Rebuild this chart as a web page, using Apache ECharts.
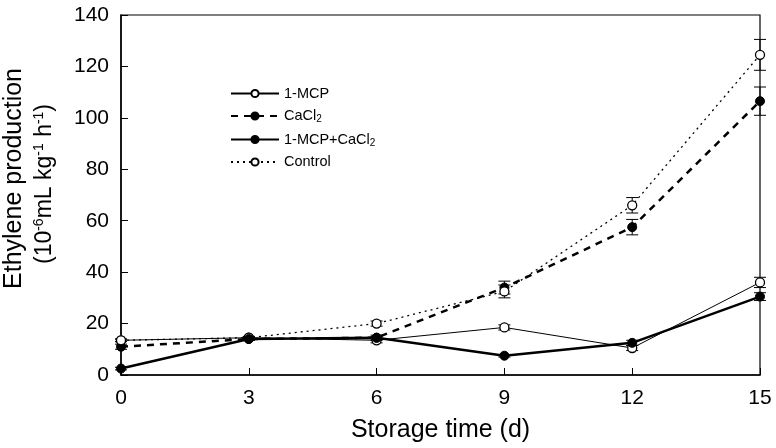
<!DOCTYPE html>
<html><head><meta charset="utf-8">
<script src="https://cdn.jsdelivr.net/npm/echarts@6/dist/echarts.min.js"></script>
<style>html,body{margin:0;padding:0;background:#fff}#c{width:776px;height:448px}</style>
</head><body><div id="c"></div>
<script>
var days = [0, 3, 6, 9, 12, 15];
var xTicks = [0, 3, 6, 9, 12, 15];
var yTicks = [0, 20, 40, 60, 80, 100, 120, 140];
var mcp = [13.5, 14.5, 13.5, 18.5, 10.5, 36];
var mcpErr = [0.5, 0.5, 1, 1, 1, 2];
var cacl = [11, 14, 14.5, 34, 57.5, 106.5];
var caclErr = [1, 0.5, 1, 2.5, 3, 5.5];
var combo = [2.5, 14, 14.5, 7.5, 12.5, 30.5];
var comboErr = [0.5, 0.5, 0.5, 0.5, 1, 1.5];
var control = [13.5, 14.5, 20, 32.5, 66, 124.5];
var controlErr = [0.5, 0.5, 1, 2.5, 3, 6];
var names = ['1-MCP', 'CaCl2', '1-MCP+CaCl2', 'Control'];
var FONT = 'Liberation Sans, Arial, sans-serif';

function pairs(v) { return days.map(function (d, i) { return [d, v[i]]; }); }
function errData(v, e) { return days.map(function (d, i) { return [d, v[i] - e[i], v[i] + e[i]]; }); }
function errSeries(v, e) {
  return {
    type: 'custom', silent: true, z: 1,
    data: errData(v, e),
    renderItem: function (params, api) {
      var x = api.value(0);
      var lo = api.coord([x, api.value(1)]);
      var hi = api.coord([x, api.value(2)]);
      var w = 6;
      var st = { stroke: '#000', lineWidth: 1 };
      return { type: 'group', children: [
        { type: 'line', shape: { x1: lo[0], y1: lo[1], x2: hi[0], y2: hi[1] }, style: st },
        { type: 'line', shape: { x1: lo[0] - w, y1: lo[1], x2: lo[0] + w, y2: lo[1] }, style: st },
        { type: 'line', shape: { x1: hi[0] - w, y1: hi[1], x2: hi[0] + w, y2: hi[1] }, style: st }
      ]};
    }
  };
}
var openItem = { color: '#fff', borderColor: '#000', borderWidth: 1.3 };
var fillItem = { color: '#000', borderColor: '#000', borderWidth: 1 };

var chart = echarts.init(document.getElementById('c'));
chart.setOption({
  animation: false,
  backgroundColor: '#fff',
  textStyle: { fontFamily: FONT, color: '#000' },
  grid: { left: 121, right: 16, top: 15, bottom: 71, show: true, borderColor: '#000', borderWidth: 1.2 },
  legend: {
    orient: 'vertical', left: 225, top: 81, itemWidth: 48, itemHeight: 9, itemGap: 6.5,
    data: names,
    textStyle: { fontSize: 14.5, color: '#000', fontFamily: FONT, lineHeight: 14,
      rich: { n: { fontSize: 14.5, lineHeight: 14 }, s: { fontSize: 10, lineHeight: 14, padding: [7, 0, 0, 0] } } },
    formatter: function (n) {
      if (n === 'CaCl2') return '{n|CaCl}{s|2}';
      if (n === '1-MCP+CaCl2') return '{n|1-MCP+CaCl}{s|2}';
      return '{n|' + n + '}';
    }
  },
  graphic: [
    { type: 'text', x: 14.5, y: 178.5, rotation: Math.PI / 2, silent: true,
      style: { text: 'Ethylene production', font: '25px ' + FONT, fill: '#000', align: 'center', verticalAlign: 'middle' } },
    { type: 'text', x: 45, y: 184, rotation: Math.PI / 2, silent: true,
      style: { text: '{m|(10}{s|-6}{m|mL kg}{s|-1}{m| h}{s|-1}{m|)}', fill: '#000', align: 'center', verticalAlign: 'middle',
        rich: { m: { fontSize: 23, fontFamily: FONT, lineHeight: 26 }, s: { fontSize: 14, fontFamily: FONT, lineHeight: 26, padding: [0, 0, 12, 0] } } } }
  ],
  xAxis: {
    type: 'value', min: 0, max: 15, interval: 3,
    name: 'Storage time (d)', nameLocation: 'middle', nameGap: 43,
    nameTextStyle: { fontSize: 25, color: '#000' },
    axisLine: { lineStyle: { color: '#000', width: 1.5 } },
    axisTick: { inside: true, length: 7, lineStyle: { color: '#000' } },
    axisLabel: { fontSize: 21, color: '#000', margin: 13,
      formatter: function (v) { return xTicks.indexOf(v) >= 0 ? String(v) : ''; } },
    splitLine: { show: false }
  },
  yAxis: {
    type: 'value', min: 0, max: 140, interval: 20,
    axisLine: { lineStyle: { color: '#000', width: 1.5 } },
    axisTick: { inside: true, length: 7, lineStyle: { color: '#000' } },
    axisLabel: { fontSize: 21, color: '#000', margin: 12,
      formatter: function (v) { return yTicks.indexOf(v) >= 0 ? String(v) : ''; } },
    splitLine: { show: false }
  },
  series: [
    errSeries(mcp, mcpErr), errSeries(cacl, caclErr), errSeries(combo, comboErr), errSeries(control, controlErr),
    { name: names[0], type: 'line', data: pairs(mcp), symbol: 'circle', symbolSize: 9, z: 3,
      lineStyle: { color: '#000', width: 1, type: 'solid' }, itemStyle: openItem },
    { name: names[1], type: 'line', data: pairs(cacl), symbol: 'circle', symbolSize: 9, z: 3,
      lineStyle: { color: '#000', width: 2.5, type: [7, 6] }, itemStyle: fillItem },
    { name: names[2], type: 'line', data: pairs(combo), symbol: 'circle', symbolSize: 9, z: 4,
      lineStyle: { color: '#000', width: 2.5, type: 'solid' }, itemStyle: fillItem },
    { name: names[3], type: 'line', data: pairs(control), symbol: 'circle', symbolSize: 9, z: 3,
      lineStyle: { color: '#000', width: 1.3, type: [2, 4] }, itemStyle: openItem }
  ]
});
</script>
</body></html>
